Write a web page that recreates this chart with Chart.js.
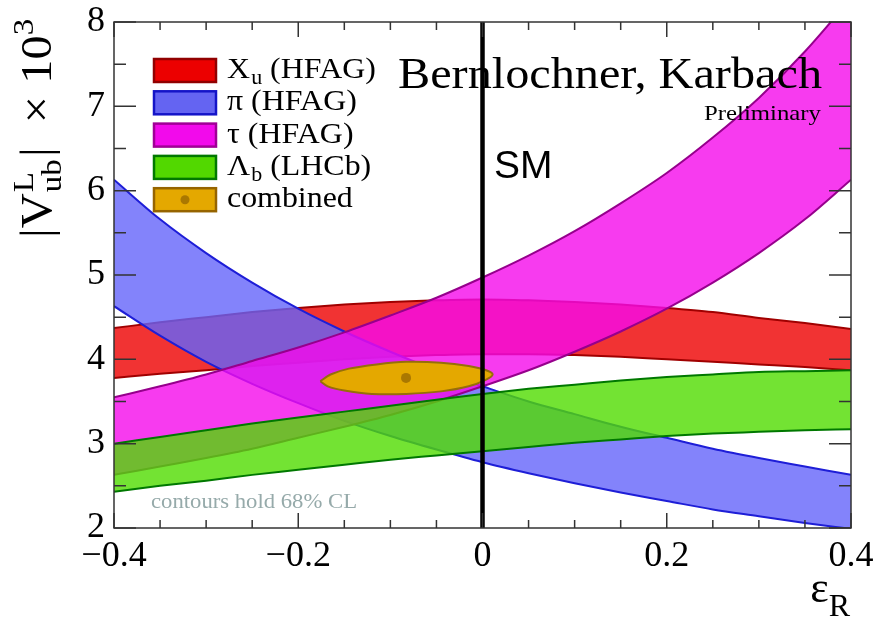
<!DOCTYPE html>
<html>
<head>
<meta charset="utf-8">
<script src="https://cdn.jsdelivr.net/npm/chart.js@4.4.1/dist/chart.umd.min.js"></script>
<style>
  html, body { margin: 0; padding: 0; background: #fff; }
  #wrap { width: 876px; height: 618px; }
</style>
</head>
<body>
<div id="wrap"><canvas id="chart" width="876" height="618"></canvas></div>
<script>
// =========================
// Data
// =========================

const EPS = [-0.4, -0.35, -0.3, -0.25, -0.2, -0.15, -0.1, -0.05, 0, 0.05, 0.1, 0.15, 0.2, 0.25, 0.3, 0.35, 0.4];

// X_u (HFAG)
const XU_UP = [4.37, 4.44, 4.50, 4.56, 4.61, 4.65, 4.68, 4.70, 4.71, 4.70, 4.68, 4.65, 4.61, 4.56, 4.49, 4.43, 4.36];
const XU_LO = [3.78, 3.83, 3.87, 3.92, 3.96, 4.00, 4.03, 4.05, 4.06, 4.06, 4.05, 4.03, 4.00, 3.97, 3.94, 3.91, 3.87];

// pi (HFAG)
const PI_UP = [6.13, 5.66, 5.26, 4.91, 4.60, 4.33, 4.09, 3.87, 3.68, 3.50, 3.35, 3.20, 3.07, 2.94, 2.83, 2.73, 2.63];
const PI_LO = [4.63, 4.28, 3.97, 3.71, 3.48, 3.27, 3.09, 2.93, 2.78, 2.65, 2.53, 2.42, 2.32, 2.22, 2.14, 2.06, 1.99];

// tau (HFAG)
const TAU_UP = [3.55, 3.68, 3.82, 3.98, 4.14, 4.32, 4.52, 4.73, 4.97, 5.23, 5.52, 5.85, 6.21, 6.63, 7.10, 7.65, 8.28];
const TAU_LO = [2.63, 2.73, 2.83, 2.94, 3.07, 3.20, 3.34, 3.50, 3.68, 3.87, 4.09, 4.33, 4.60, 4.91, 5.26, 5.66, 6.13];

// Lambda_b (LHCb)
const LB_UP = [3.00, 3.08, 3.16, 3.24, 3.31, 3.38, 3.45, 3.52, 3.59, 3.65, 3.70, 3.75, 3.79, 3.82, 3.85, 3.86, 3.87];
const LB_LO = [2.43, 2.50, 2.56, 2.63, 2.69, 2.75, 2.81, 2.86, 2.91, 2.96, 3.01, 3.05, 3.09, 3.12, 3.14, 3.16, 3.17];

// combined 68% contour
const COMB_X = [-0.176, -0.165, -0.145, -0.115, -0.083, -0.045, -0.015, 0.004, 0.011, 0.004, -0.015, -0.045, -0.083, -0.120, -0.150, -0.168, -0.176];
const COMB_Y = [3.74, 3.82, 3.89, 3.94, 3.97, 3.96, 3.92, 3.87, 3.82, 3.76, 3.68, 3.62, 3.59, 3.59, 3.63, 3.68, 3.74];
const COMB_BEST = [-0.083, 3.78];

const SM_EPS = 0;

const X_TICKS = [-0.4, -0.2, 0, 0.2, 0.4];
const Y_TICKS = [2, 3, 4, 5, 6, 7, 8];

const SERIF = '"Liberation Serif", "DejaVu Serif", serif';
const SANS = '"Liberation Sans", Arial, sans-serif';

// =========================
// Datasets
// =========================

function pts(xs, ys) {
  return xs.map((x, i) => ({ x, y: ys[i] }));
}

function band(up, lo, fillColor, edge, order) {
  return [
    {
      data: pts(EPS, up),
      borderColor: edge,
      borderWidth: 2,
      backgroundColor: fillColor,
      fill: '+1',
      pointRadius: 0,
      cubicInterpolationMode: 'monotone',
      order: order + 1,
    },
    {
      data: pts(EPS, lo),
      borderColor: edge,
      borderWidth: 2,
      fill: false,
      pointRadius: 0,
      cubicInterpolationMode: 'monotone',
      order: order,
    },
  ];
}

const datasets = [
  ...band(XU_UP, XU_LO, 'rgba(238,0,0,0.8)', 'rgb(160,0,0)', 10),
  ...band(PI_UP, PI_LO, 'rgba(100,100,250,0.8)', 'rgb(30,30,215)', 8),
  ...band(TAU_UP, TAU_LO, 'rgba(245,10,235,0.8)', 'rgb(150,0,140)', 6),
  ...band(LB_UP, LB_LO, 'rgba(80,220,0,0.8)', 'rgb(0,120,0)', 4),
  {
    data: pts(COMB_X, COMB_Y),
    borderColor: 'rgb(150,110,10)',
    borderWidth: 2,
    backgroundColor: 'rgb(228,168,0)',
    fill: 'shape',
    pointRadius: 0,
    tension: 0.3,
    order: 3,
  },
  {
    data: [{ x: COMB_BEST[0], y: COMB_BEST[1] }],
    showLine: false,
    pointRadius: 5,
    pointBackgroundColor: 'rgb(170,120,0)',
    pointBorderWidth: 0,
    order: 2,
  },
  {
    data: [{ x: SM_EPS, y: 2 }, { x: SM_EPS, y: 8 }],
    borderColor: '#000',
    borderWidth: 4.5,
    pointRadius: 0,
    fill: false,
    order: 1,
  },
];

// =========================
// Text helpers
// =========================

function txt(ctx, s, x, y, size, family) {
  ctx.font = size + 'px ' + (family || SERIF);
  ctx.fillText(s, x, y);
  return ctx.measureText(s).width;
}

// text squeezed or stretched horizontally to a given width
function fitText(ctx, s, x, y, font, width, align) {
  ctx.save();
  ctx.font = font;
  const w = ctx.measureText(s).width;
  const k = width / w;
  const x0 = align === 'right' ? x - width : x;
  ctx.translate(x0, y);
  ctx.scale(k, 1);
  ctx.textAlign = 'left';
  ctx.fillText(s, 0, 0);
  ctx.restore();
}

function drawYTitle(ctx) {
  ctx.save();
  ctx.translate(51, 238);
  ctx.rotate(-Math.PI / 2);
  ctx.scale(1.1, 1);
  ctx.fillStyle = '#000';
  ctx.textAlign = 'left';
  ctx.textBaseline = 'alphabetic';
  let x = 0;
  x += txt(ctx, '|V', x, 0, 44);
  const wl = txt(ctx, 'L', x + 1, -18, 30);
  const wu = txt(ctx, 'ub', x + 1, 10, 30);
  x += Math.max(wl, wu) + 3;
  x += txt(ctx, '|  \u00d7 10', x, 0, 44);
  txt(ctx, '3', x, -18, 30);
  ctx.restore();
}

function drawXTitle(ctx) {
  ctx.save();
  ctx.fillStyle = '#000';
  ctx.textBaseline = 'alphabetic';
  ctx.font = '44px ' + SERIF;
  const we = ctx.measureText('\u03b5').width;
  ctx.font = '32px ' + SERIF;
  const wr = ctx.measureText('R').width;
  const x0 = 850 - we - wr;
  txt(ctx, '\u03b5', x0, 602, 44);
  txt(ctx, 'R', x0 + we, 616, 32);
  ctx.restore();
}

const LEGEND = [
  { main: 'X', sub: 'u', rest: ' (HFAG)', fill: 'rgb(236,0,0)', edge: 'rgb(145,0,0)' },
  { main: '\u03c0 (HFAG)', fill: 'rgb(100,100,242)', edge: 'rgb(20,20,200)' },
  { main: '\u03c4 (HFAG)', fill: 'rgb(242,10,235)', edge: 'rgb(160,0,150)' },
  { main: '\u039b', sub: 'b', rest: ' (LHCb)', fill: 'rgb(82,216,0)', edge: 'rgb(0,120,0)' },
  { main: 'combined', fill: 'rgb(228,168,0)', edge: 'rgb(150,100,0)', dot: 'rgb(170,120,0)' },
];

function drawLegend(ctx) {
  ctx.save();
  LEGEND.forEach((e, i) => {
    const top = 59 + i * 32.3;
    ctx.fillStyle = e.fill;
    ctx.strokeStyle = e.edge;
    ctx.lineWidth = 2.5;
    ctx.fillRect(154, top, 62, 23);
    ctx.strokeRect(154, top, 62, 23);
    if (e.dot) {
      ctx.fillStyle = e.dot;
      ctx.beginPath();
      ctx.arc(185, top + 11.5, 4.5, 0, Math.PI * 2);
      ctx.fill();
    }
    ctx.save();
    ctx.translate(227, top + 19);
    ctx.scale(1.1, 1);
    ctx.fillStyle = '#000';
    ctx.textBaseline = 'alphabetic';
    let x = 0;
    x += txt(ctx, e.main, x, 0, 29);
    if (e.sub) {
      x += txt(ctx, e.sub, x + 1, 6, 20) + 1;
      txt(ctx, e.rest, x, 0, 29);
    }
    ctx.restore();
  });
  ctx.restore();
}

// =========================
// Plugins
// =========================

const frame = {
  id: 'frame',
  afterDatasetsDraw(chart) {
    const { ctx, chartArea: a, scales: { x, y } } = chart;
    ctx.save();
    ctx.strokeStyle = '#333';
    ctx.lineWidth = 1.5;
    ctx.beginPath();
    for (let k = 0; k <= 16; k++) {
      const v = -0.4 + k * 0.05;
      const px = x.getPixelForValue(v);
      const len = k % 4 === 0 ? 15 : 8;
      ctx.moveTo(px, a.bottom);
      ctx.lineTo(px, a.bottom - len);
      ctx.moveTo(px, a.top);
      ctx.lineTo(px, a.top + len);
    }
    for (let k = 0; k <= 12; k++) {
      const v = 2 + k * 0.5;
      const py = y.getPixelForValue(v);
      const len = k % 2 === 0 ? 22 : 12;
      ctx.moveTo(a.left, py);
      ctx.lineTo(a.left + len, py);
      ctx.moveTo(a.right, py);
      ctx.lineTo(a.right - len, py);
    }
    ctx.stroke();
    ctx.strokeRect(a.left, a.top, a.right - a.left, a.bottom - a.top);
    ctx.restore();
  },
};

const labels = {
  id: 'labels',
  afterDraw(chart) {
    const ctx = chart.ctx;
    ctx.save();
    ctx.fillStyle = '#000';
    ctx.textBaseline = 'alphabetic';
    fitText(ctx, 'Bernlochner, Karbach', 822, 88, '45px ' + SERIF, 424, 'right');
    fitText(ctx, 'Preliminary', 821, 120, '21px ' + SERIF, 117, 'right');
    ctx.textAlign = 'left';
    txt(ctx, 'SM', 494, 178, 39, SANS);
    ctx.fillStyle = 'rgb(150,170,170)';
    fitText(ctx, 'contours hold 68% CL', 151, 508, '21px ' + SERIF, 206, 'left');
    ctx.restore();
    drawLegend(ctx);
    drawYTitle(ctx);
    drawXTitle(ctx);
  },
};

function fmtTick(v) {
  if (Math.abs(v) < 1e-9) return '0';
  return (v < 0 ? '\u2212' : '') + Math.abs(v).toFixed(1);
}

// =========================
// Chart
// =========================

new Chart(document.getElementById('chart'), {
  type: 'line',
  data: { datasets },
  options: {
    responsive: false,
    animation: false,
    devicePixelRatio: 1,
    layout: { padding: { left: 0, top: 22, right: 25, bottom: 0 } },
    plugins: { legend: { display: false }, tooltip: { enabled: false } },
    scales: {
      x: {
        type: 'linear',
        min: -0.4,
        max: 0.4,
        afterBuildTicks: (s) => { s.ticks = X_TICKS.map((v) => ({ value: v })); },
        ticks: {
          autoSkip: false,
          maxRotation: 0,
          padding: 7,
          color: '#000',
          font: { family: SERIF, size: 36 },
          callback: (v) => fmtTick(v),
        },
        grid: { display: false, drawTicks: false },
        border: { display: false },
        afterFit: (s) => { s.height = 90; s.paddingLeft = 0; s.paddingRight = 0; },
      },
      y: {
        type: 'linear',
        min: 2,
        max: 8,
        afterBuildTicks: (s) => { s.ticks = Y_TICKS.map((v) => ({ value: v })); },
        ticks: {
          autoSkip: false,
          padding: 9,
          color: '#000',
          font: { family: SERIF, size: 36 },
          callback: (v) => String(v),
        },
        grid: { display: false, drawTicks: false },
        border: { display: false },
        afterFit: (s) => { s.width = 114; s.paddingTop = 0; s.paddingBottom = 0; },
      },
    },
  },
  plugins: [frame, labels],
});
</script>
</body>
</html>
